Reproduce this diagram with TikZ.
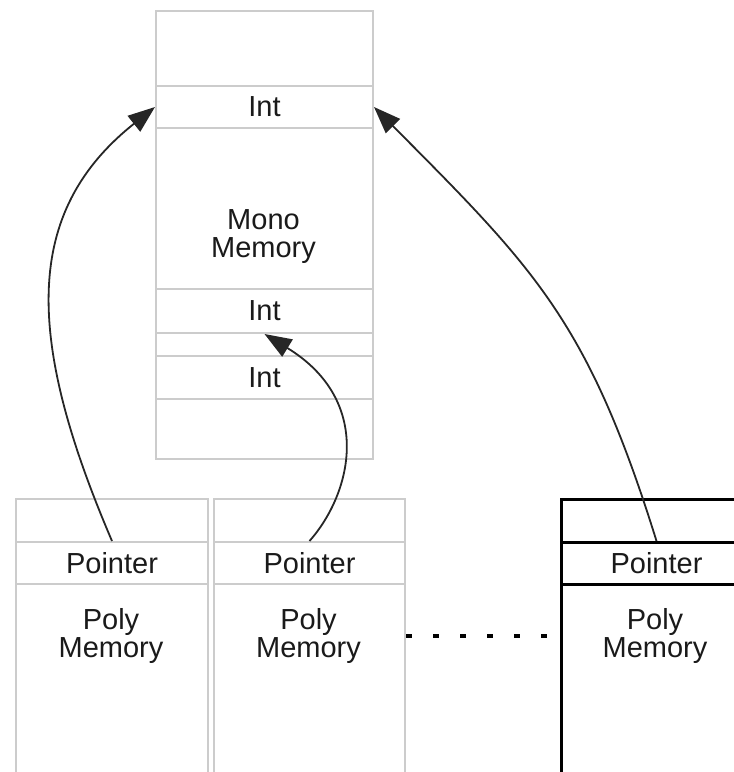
\documentclass[tikz,border=0pt]{standalone}
\usepackage{fontspec}
\setmainfont{Liberation Sans}
\usetikzlibrary{arrows.meta}
\definecolor{boxgray}{HTML}{CCCCCC}
\definecolor{txt}{HTML}{1A1A1A}
\begin{document}
\begin{tikzpicture}[x=1pt,y=-1pt,
  cell/.style={draw=boxgray, line width=2pt, inner sep=0pt, anchor=north west,
    font=\fontsize{29}{28}\selectfont, text=txt},
  blackcell/.style={cell, draw=black, line width=3pt},
  lbl/.style={align=center, inner sep=0pt, font=\fontsize{29}{28}\selectfont, text=txt},
  ptr/.style={-{Triangle[length=27pt,width=20pt]}, line width=1.8pt, draw=black!85, fill=none},
  dotsep/.style={line width=4pt, dash pattern=on 6pt off 21pt}]
\useasboundingbox (0,0) rectangle (734,772);
% Mono memory column
\node[cell, minimum width=217pt, minimum height=75pt] (mtop) at (155,10) {};
\node[cell, minimum width=217pt, minimum height=42pt] (int1) at (155,85) {Int};
\node[cell, minimum width=217pt, minimum height=161pt] (mmid) at (155,127) {};
\node[lbl] (mono) at (263.5,237) {Mono\\Memory};
\node[cell, minimum width=217pt, minimum height=44pt] (int2) at (155,288) {Int};
\node[cell, minimum width=217pt, minimum height=23pt] (mgap) at (155,332) {};
\node[cell, minimum width=217pt, minimum height=43pt] (int3) at (155,355) {Int};
\node[cell, minimum width=217pt, minimum height=60pt] (mbot) at (155,398) {};
% Poly memory boxes
\node[cell, minimum width=192pt, minimum height=43pt] (top1) at (15,498) {};
\node[cell, minimum width=192pt, minimum height=42pt] (ptr1) at (15,541) {Pointer};
\node[cell, minimum width=192pt, minimum height=210pt] (body1) at (15,583) {};
\node[lbl] (poly1) at (111,636) {Poly\\Memory};
\node[cell, minimum width=191pt, minimum height=43pt] (top2) at (213,498) {};
\node[cell, minimum width=191pt, minimum height=42pt] (ptr2) at (213,541) {Pointer};
\node[cell, minimum width=191pt, minimum height=210pt] (body2) at (213,583) {};
\node[lbl] (poly2) at (308.5,636) {Poly\\Memory};
\node[blackcell, minimum width=190pt, minimum height=43pt] (top3) at (560,498) {};
\node[blackcell, minimum width=190pt, minimum height=42pt] (ptr3) at (560,541) {Pointer};
\node[blackcell, minimum width=190pt, minimum height=210pt] (body3) at (560,583) {};
\node[lbl] (poly3) at (655,636) {Poly\\Memory};
% dotted continuation
\draw[dotsep] (body2.east |- 0,636) -- (body3.west |- 0,636);
% pointers
\draw[ptr] (ptr1.north) .. controls (25,338) and (23,212) .. (int1.west);
\draw[ptr] (ptr2.north) .. controls (352,493) and (374,401) .. (int2.south);
\draw[ptr] (ptr3.north) .. controls (588,321) and (535,269) .. (int1.east);
\end{tikzpicture}
\end{document}
